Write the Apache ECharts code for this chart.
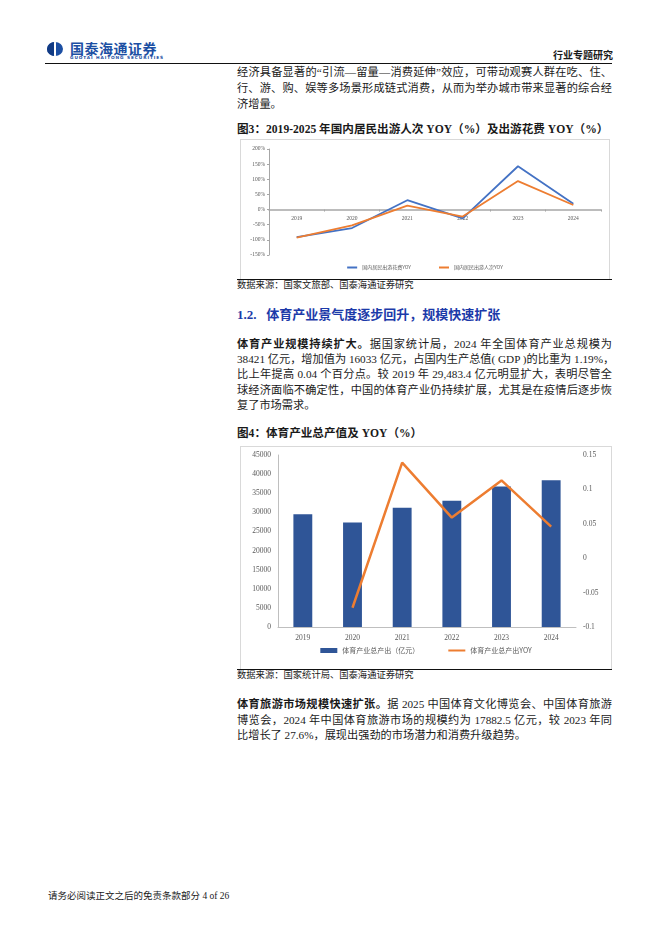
<!DOCTYPE html>
<html>
<head>
<meta charset="utf-8">
<script src="https://cdn.jsdelivr.net/npm/echarts@6/dist/echarts.min.js"></script>
<style>
  html, body { margin: 0; padding: 0; background: #fff; }
  body { width: 662px; height: 936px; position: relative; overflow: hidden;
         font-family: "Liberation Serif", "Noto Sans CJK SC", serif; color: #1a1a1a; }
  .abs { position: absolute; }
  .para { left: 237px; width: 375px; font-size: 11.2px; }
  .para div { white-space: nowrap; text-align: justify; text-align-last: justify; }
  .para div.last { text-align-last: left; }
  .para b { font-weight: bold; }
  .title { left: 237px; font-size: 11.6px; font-weight: bold; white-space: nowrap; }
  .source { left: 237px; font-size: 9.3px; white-space: nowrap; }
  .rule { left: 237px; width: 375px; height: 0; border-top: 1.2px solid #111; }
  .box { border: 1px solid #d9d9d9; box-sizing: border-box; }
</style>
</head>
<body>

<!-- header -->
<div class="abs" style="left:47px;top:42px;width:16px;height:14px;border-radius:50%;background:#1c4fa3;overflow:hidden;">
  <div class="abs" style="left:0;top:0;width:7px;height:14px;background:#123b84;"></div>
  <div class="abs" style="left:7px;top:0;width:2px;height:14px;background:#fff;"></div>
</div>
<div class="abs" style="left:70px;top:40px;font-family:'Noto Sans CJK SC';font-weight:bold;font-size:14px;line-height:16px;color:#1c4fa3;letter-spacing:0.5px;white-space:nowrap;">国泰海通证券</div>
<div class="abs" style="left:70px;top:55px;font-family:'DejaVu Sans';font-weight:bold;font-size:4.3px;line-height:5px;color:#1c4fa3;letter-spacing:0.9px;white-space:nowrap;">GUOTAI HAITONG SECURITIES</div>
<div class="abs" style="left:553px;top:49px;font-family:'Noto Sans CJK SC';font-weight:bold;font-size:10px;line-height:12px;white-space:nowrap;">行业专题研究</div>
<div class="abs" style="left:45px;top:63px;width:567px;border-top:1.5px solid #111;"></div>

<!-- paragraph 1 -->
<div class="abs para" style="top:64px;line-height:16px;">
  <div>经济具备显著的“引流—留量—消费延伸”效应，可带动观赛人群在吃、住、</div>
  <div>行、游、购、娱等多场景形成链式消费，从而为举办城市带来显著的综合经</div>
  <div class="last">济增量。</div>
</div>

<div class="abs title" style="top:123px;line-height:14px;">图3：2019-2025 年国内居民出游人次 YOY（%）及出游花费 YOY（%）</div>
<div id="c1" class="abs box" style="left:240px;top:139px;width:370px;height:141px;"></div>
<div class="abs rule" style="top:279px;"></div>
<div class="abs source" style="top:279px;line-height:13px;">数据来源：国家文旅部、国泰海通证券研究</div>

<div class="abs" style="left:237px;top:306px;font-size:13px;line-height:18px;font-weight:bold;color:#1c3aa9;white-space:nowrap;">1.2.&nbsp;&nbsp;&nbsp;体育产业景气度逐步回升，规模快速扩张</div>

<!-- paragraph 2 -->
<div class="abs para" style="top:337px;line-height:15.2px;">
  <div><b>体育产业规模持续扩大。</b>据国家统计局，2024 年全国体育产业总规模为</div>
  <div>38421 亿元，增加值为 16033 亿元，占国内生产总值( GDP )的比重为 1.19%，</div>
  <div>比上年提高 0.04 个百分点。较 2019 年 29,483.4 亿元明显扩大，表明尽管全</div>
  <div>球经济面临不确定性，中国的体育产业仍持续扩展，尤其是在疫情后逐步恢</div>
  <div class="last">复了市场需求。</div>
</div>

<div class="abs title" style="top:427px;line-height:14px;">图4：体育产业总产值及 YOY（%）</div>
<div id="c2" class="abs box" style="left:240px;top:446px;width:372px;height:224px;"></div>
<div class="abs rule" style="top:669px;"></div>
<div class="abs source" style="top:669px;line-height:13px;">数据来源：国家统计局、国泰海通证券研究</div>

<!-- paragraph 3 -->
<div class="abs para" style="top:697px;line-height:15.5px;">
  <div><b>体育旅游市场规模快速扩张。</b>据 2025 中国体育文化博览会、中国体育旅游</div>
  <div>博览会，2024 年中国体育旅游市场的规模约为 17882.5 亿元，较 2023 年同</div>
  <div class="last">比增长了 27.6%，展现出强劲的市场潜力和消费升级趋势。</div>
</div>

<div class="abs" style="left:48px;top:890px;font-size:9.5px;line-height:13px;white-space:nowrap;">请务必阅读正文之后的免责条款部分 4 of 26</div>

<script>
// 图3 data
const travelYears = ['2019', '2020', '2021', '2022', '2023', '2024'];
const spendYoy = [-91, -61, 31, -29, 143, 19];   // 国内居民出游花费YOY (%)
const tripsYoy = [-93, -52, 13, -23, 94, 15];    // 国内居民出游人次YOY (%)
const travelMin = -150, travelMax = 200;

// 图4 data
const sportYears = ['2019', '2020', '2021', '2022', '2023', '2024'];
const sportOutput = [29483, 27372, 31175, 33008, 36741, 38421]; // 亿元
const sportYoy = [null, -0.072, 0.139, 0.059, 0.113, 0.046];

const grayText = '#595959';

let chart1 = echarts.init(document.getElementById('c1'));
const grid1 = { left: 28, right: 8, top: 9, bottom: 24 };
// labels sit just under the 0% line, so shift a label-only axis up to it
const gridH1 = chart1.getHeight() - grid1.top - grid1.bottom;
const zeroShift = -gridH1 * (0 - travelMin) / (travelMax - travelMin);

chart1.setOption({
    animation: false,
    grid: grid1,
    legend: {
        bottom: 4,
        left: 'center',
        itemWidth: 10,
        itemHeight: 2,
        itemGap: 28,
        icon: 'rect',
        textStyle: { fontSize: 5, color: grayText, fontFamily: 'Noto Sans CJK SC' },
        data: ['国内居民出游花费YOY', '国内居民出游人次YOY']
    },
    xAxis: [
        {
            type: 'category',
            data: travelYears,
            axisLine: { onZero: true, lineStyle: { color: '#a6a6a6', width: 1.5 } },
            axisTick: { show: true, length: 2, lineStyle: { color: '#a6a6a6' } },
            axisLabel: { show: false }
        },
        {
            type: 'category',
            data: travelYears,
            position: 'bottom',
            offset: zeroShift,
            axisLine: { show: false, onZero: false },
            axisTick: { show: false },
            axisLabel: { fontSize: 5.5, color: grayText, margin: 6, fontFamily: 'Liberation Serif' }
        }
    ],
    yAxis: {
        type: 'value',
        min: travelMin,
        max: travelMax,
        interval: 50,
        splitLine: { show: false },
        axisLine: { show: true, lineStyle: { color: '#a6a6a6' } },
        axisTick: { show: true, length: 2, lineStyle: { color: '#a6a6a6' } },
        axisLabel: { fontSize: 5.5, color: grayText, margin: 4, formatter: '{value}%', fontFamily: 'Liberation Serif' }
    },
    series: [
        {
            name: '国内居民出游花费YOY',
            type: 'line',
            symbol: 'none',
            data: spendYoy,
            lineStyle: { color: '#4472c4', width: 1.8 },
            itemStyle: { color: '#4472c4' }
        },
        {
            name: '国内居民出游人次YOY',
            type: 'line',
            symbol: 'none',
            data: tripsYoy,
            lineStyle: { color: '#ed7d31', width: 1.8 },
            itemStyle: { color: '#ed7d31' }
        }
    ]
});

let chart2 = echarts.init(document.getElementById('c2'));
chart2.setOption({
    animation: false,
    grid: { left: 37, right: 35, top: 8, bottom: 42 },
    legend: {
        bottom: 10,
        left: 'center',
        itemWidth: 17,
        itemHeight: 5,
        itemGap: 28,
        textStyle: { fontSize: 7, color: grayText, fontFamily: 'Noto Sans CJK SC' },
        data: [
            { name: '体育产业总产出（亿元）', icon: 'rect' },
            { name: '体育产业总产出YOY', itemStyle: { color: 'rgba(0,0,0,0)', borderWidth: 0, opacity: 0 } }
        ]
    },
    xAxis: {
        type: 'category',
        data: sportYears,
        axisLine: { lineStyle: { color: '#bfbfbf' } },
        axisTick: { show: false },
        axisLabel: { fontSize: 7.5, color: grayText, margin: 7, fontFamily: 'Liberation Serif' }
    },
    yAxis: [
        {
            type: 'value',
            min: 0,
            max: 45000,
            interval: 5000,
            splitLine: { show: false },
            axisLine: { show: true, lineStyle: { color: '#bfbfbf' } },
            axisTick: { show: false },
            axisLabel: {
                fontSize: 7.5, color: grayText, margin: 7, fontFamily: 'Liberation Serif',
                formatter: v => String(v)
            }
        },
        {
            type: 'value',
            min: -0.1,
            max: 0.15,
            interval: 0.05,
            splitLine: { show: false },
            axisLine: { show: false },
            axisTick: { show: false },
            axisLabel: {
                fontSize: 7.5, color: grayText, margin: 7, fontFamily: 'Liberation Serif',
                formatter: v => String(parseFloat(v.toFixed(2)))
            }
        }
    ],
    series: [
        {
            name: '体育产业总产出（亿元）',
            type: 'bar',
            barWidth: '38%',
            data: sportOutput,
            itemStyle: { color: '#2f5597' }
        },
        {
            name: '体育产业总产出YOY',
            type: 'line',
            yAxisIndex: 1,
            symbol: 'none',
            data: sportYoy,
            lineStyle: { color: '#ed7d31', width: 2.5 },
            itemStyle: { color: '#ed7d31' }
        }
    ]
});
</script>
</body>
</html>
